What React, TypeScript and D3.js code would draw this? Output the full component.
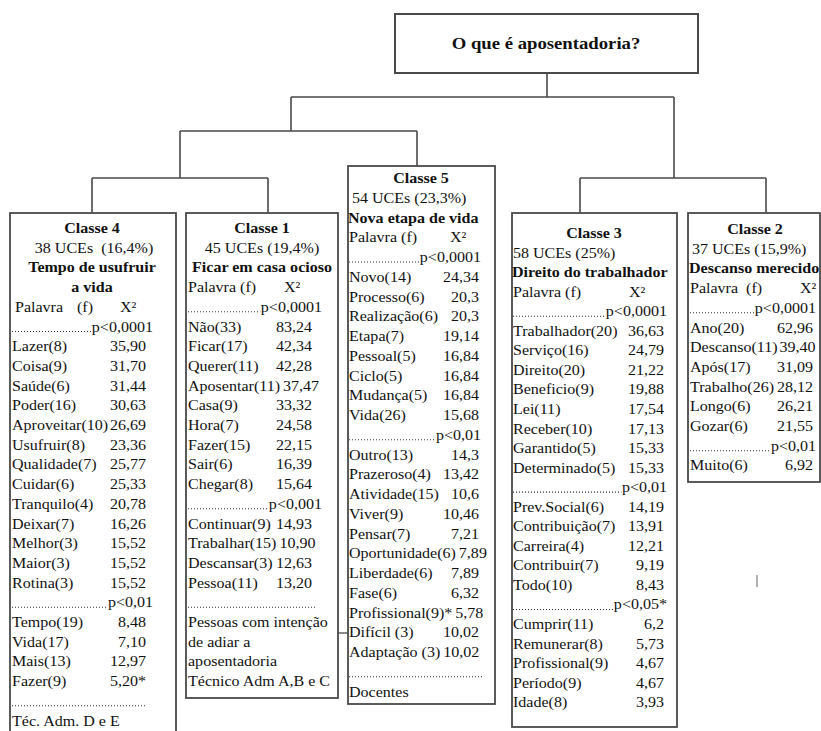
import * as React from 'react'
import { useEffect, useRef } from 'react'
import * as d3 from 'd3'

// root question
const rootQuestion = 'O que é aposentadoria?'

// classes, in the order they are drawn left to right
const classTitles = ['Classe 4', 'Classe 1', 'Classe 5', 'Classe 3', 'Classe 2']
const classUces = ['38 UCEs  (16,4%)', '45 UCEs (19,4%)', '54 UCEs (23,3%)', '58 UCEs (25%)', '37 UCEs (15,9%)']
const classThemes = [
  ['Tempo de usufruir', 'a vida'],
  ['Ficar em casa ocioso'],
  ['Nova etapa de vida'],
  ['Direito do trabalhador'],
  ['Descanso merecido'],
]
const classFooters = [
  ['Téc. Adm. D e E'],
  ['Pessoas com intenção', 'de adiar a', 'aposentadoria', 'Técnico Adm A,B e C'],
  ['Docentes'],
  [],
  [],
]

// Classe 4
const c4P = ['p<0,0001', 'p<0,01']
const c4Words = [
  ['Lazer(8)', 'Coisa(9)', 'Saúde(6)', 'Poder(16)', 'Aproveitar(10)', 'Usufruir(8)', 'Qualidade(7)', 'Cuidar(6)', 'Tranquilo(4)', 'Deixar(7)', 'Melhor(3)', 'Maior(3)', 'Rotina(3)'],
  ['Tempo(19)', 'Vida(17)', 'Mais(13)', 'Fazer(9)'],
]
const c4Chi = [
  ['35,90', '31,70', '31,44', '30,63', '26,69', '23,36', '25,77', '25,33', '20,78', '16,26', '15,52', '15,52', '15,52'],
  ['8,48', '7,10', '12,97', '5,20*'],
]

// Classe 1
const c1P = ['p<0,0001', 'p<0,001']
const c1Words = [
  ['Não(33)', 'Ficar(17)', 'Querer(11)', 'Aposentar(11)', 'Casa(9)', 'Hora(7)', 'Fazer(15)', 'Sair(6)', 'Chegar(8)'],
  ['Continuar(9)', 'Trabalhar(15)', 'Descansar(3)', 'Pessoa(11)'],
]
const c1Chi = [
  ['83,24', '42,34', '42,28', '37,47', '33,32', '24,58', '22,15', '16,39', '15,64'],
  ['14,93', '10,90', '12,63', '13,20'],
]

// Classe 5
const c5P = ['p<0,0001', 'p<0,01']
const c5Words = [
  ['Novo(14)', 'Processo(6)', 'Realização(6)', 'Etapa(7)', 'Pessoal(5)', 'Ciclo(5)', 'Mudança(5)', 'Vida(26)'],
  ['Outro(13)', 'Prazeroso(4)', 'Atividade(15)', 'Viver(9)', 'Pensar(7)', 'Oportunidade(6)', 'Liberdade(6)', 'Fase(6)', 'Profissional(9)*', 'Difícil (3)', 'Adaptação (3)'],
]
const c5Chi = [
  ['24,34', '20,3', '20,3', '19,14', '16,84', '16,84', '16,84', '15,68'],
  ['14,3', '13,42', '10,6', '10,46', '7,21', '7,89', '7,89', '6,32', '5,78', '10,02', '10,02'],
]

// Classe 3
const c3P = ['p<0,0001', 'p<0,01', 'p<0,05*']
const c3Words = [
  ['Trabalhador(20)', 'Serviço(16)', 'Direito(20)', 'Beneficio(9)', 'Lei(11)', 'Receber(10)', 'Garantido(5)', 'Determinado(5)'],
  ['Prev.Social(6)', 'Contribuição(7)', 'Carreira(4)', 'Contribuir(7)', 'Todo(10)'],
  ['Cumprir(11)', 'Remunerar(8)', 'Profissional(9)', 'Período(9)', 'Idade(8)'],
]
const c3Chi = [
  ['36,63', '24,79', '21,22', '19,88', '17,54', '17,13', '15,33', '15,33'],
  ['14,19', '13,91', '12,21', '9,19', '8,43'],
  ['6,2', '5,73', '4,67', '4,67', '3,93'],
]

// Classe 2
const c2P = ['p<0,0001', 'p<0,01']
const c2Words = [
  ['Ano(20)', 'Descanso(11)', 'Após(17)', 'Trabalho(26)', 'Longo(6)', 'Gozar(6)'],
  ['Muito(6)'],
]
const c2Chi = [
  ['62,96', '39,40', '31,09', '28,12', '26,21', '21,55'],
  ['6,92'],
]

const classP = [c4P, c1P, c5P, c3P, c2P]
const classWords = [c4Words, c1Words, c5Words, c3Words, c2Words]
const classChi = [c4Chi, c1Chi, c5Chi, c3Chi, c2Chi]

const FONT = '"Liberation Serif", "Times New Roman", serif'
const SX = 1.07

const App = () => {
  const ref = useRef<HTMLDivElement | null>(null)

  useEffect(() => {
    const svg = d3.select(ref.current)
      .append('svg')
      .attr('width', 821)
      .attr('height', 731)
      .style('position', 'absolute')
      .style('left', 0)
      .style('top', 0)
      .style('background', '#fff')
      .attr('font-family', FONT)

    const text = (g: any, s: string, x: number, y: number, anchor = 'start', bold = false, size = 15) =>
      g.append('text')
        .attr('transform', `translate(${x},${y}) scale(${SX},1)`)
        .attr('text-anchor', anchor)
        .attr('font-weight', bold ? 'bold' : 'normal')
        .attr('font-size', size)
        .attr('fill', '#111')
        .style('white-space', 'pre')
        .text(s)

    const width = (t: any) => (t.node() as SVGTextElement).getComputedTextLength() * SX

    // box layout
    const boxes = [
      { x0: 10, x1: 176, top: 213, bottom: 760, first: 228, step: 19.7, cx: 92, head: 'center', ucesX: 94, left: 12, fX: 77, chiX: 120, valR: 146, pR: 153, dotsR: 146, gap: 0 },
      { x0: 186, x1: 338, top: 213, bottom: 698, first: 228, step: 19.7, cx: 262, head: 'center', ucesX: 262, left: 188, fX: 0, chiX: 284, valR: 312, pR: 322, dotsR: 317, gap: 3 },
      { x0: 348, x1: 495, top: 166, bottom: 704, first: 178, step: 19.75, cx: 421, head: 'left', ucesX: 352, left: 349, fX: 0, chiX: 450, valR: 479, pR: 481, dotsR: 484, gap: 3 },
      { x0: 512, x1: 677, top: 213, bottom: 727, first: 233, step: 19.55, cx: 594, head: 'left', ucesX: 513, left: 513, fX: 0, chiX: 629, valR: 664, pR: 667, dotsR: 664, gap: 3 },
      { x0: 688, x1: 820, top: 213, bottom: 482, first: 229, step: 19.7, cx: 755, head: 'left', ucesX: 692, left: 690, fX: 0, chiX: 800, valR: 813, pR: 816, dotsR: 813, gap: 2 },
    ]

    const lineColor = '#4a4a4a'
    const lines = svg.append('g').attr('stroke', lineColor).attr('stroke-width', 1.6).attr('fill', 'none')

    // tree connectors
    const joints = [
      { x: 547, y0: 73, y1: 97, h: [291, 674] },
      { x: 291, y0: 97, y1: 131, h: [180, 417] },
      { x: 674, y0: 97, y1: 178, h: [580, 766] },
      { x: 180, y0: 131, y1: 178, h: [92, 268] },
    ]
    joints.forEach(j => {
      lines.append('path').attr('d', `M${j.x},${j.y0}V${j.y1}M${j.h[0]},${j.y1}H${j.h[1]}`)
    })
    const drops = [
      { x: 92, y0: 178, y1: 213 },
      { x: 268, y0: 178, y1: 213 },
      { x: 417, y0: 131, y1: 166 },
      { x: 580, y0: 178, y1: 213 },
      { x: 766, y0: 178, y1: 213 },
    ]
    drops.forEach(d => lines.append('path').attr('d', `M${d.x},${d.y0}V${d.y1}`))

    // stray strokes from the source picture
    lines.append('path').attr('d', 'M338,633H348').attr('stroke-width', 1.3)
    lines.append('path').attr('d', 'M757,575V587').attr('stroke', '#8a8a8a').attr('stroke-width', 1.3)

    // root box
    lines.append('rect').attr('x', 395).attr('y', 14).attr('width', 303).attr('height', 59).attr('stroke-width', 2)
    text(svg, rootQuestion, 546, 49, 'middle', true, 17.5)

    const dotted = (g: any, x0: number, x1: number, y: number) =>
      g.append('line')
        .attr('x1', x0).attr('x2', x1).attr('y1', y).attr('y2', y)
        .attr('stroke', '#333').attr('stroke-width', 1.1)
        .attr('stroke-dasharray', '1,2')

    boxes.forEach((b, i) => {
      const g = svg.append('g')
      g.append('rect')
        .attr('x', b.x0).attr('y', b.top)
        .attr('width', b.x1 - b.x0).attr('height', b.bottom - b.top)
        .attr('fill', '#fff').attr('stroke', lineColor).attr('stroke-width', 1.8)

      let r = 0
      const base = () => b.first + r * b.step + 5

      text(g, classTitles[i], b.cx, base(), 'middle', true)
      r++
      if (b.head === 'center') text(g, classUces[i], b.ucesX, base(), 'middle')
      else text(g, classUces[i], b.ucesX, base())
      r++
      classThemes[i].forEach(t => {
        if (b.head === 'center') text(g, t, b.cx, base(), 'middle', true)
        else text(g, t, b.left - 1, base(), 'start', true)
        r++
      })
      // header row
      if (b.fX) {
        text(g, 'Palavra', b.left + 3, base())
        text(g, '(f)', b.fX, base())
      } else {
        text(g, i === 4 ? 'Palavra  (f)' : 'Palavra (f)', b.left, base())
      }
      text(g, 'X²', b.chiX, base())
      r++

      classP[i].forEach((p, k) => {
        const pt = text(g, p, b.pR, base(), 'end')
        dotted(g, b.left, b.pR - width(pt) - 0.5, base())
        r++
        classWords[i][k].forEach((word, n) => {
          const wt = text(g, word, b.left, base())
          const vt = text(g, classChi[i][k][n], 0, base())
          const vw = width(vt)
          // values sit on a right-aligned column, pushed right after long words
          const vx = Math.max(b.valR - vw, b.left + width(wt) + b.gap)
          vt.attr('transform', `translate(${vx},${base()}) scale(${SX},1)`)
          r++
        })
      })

      if (classFooters[i].length) {
        dotted(g, b.left, b.dotsR, base())
        r++
        classFooters[i].forEach(f => {
          text(g, f, b.left, base())
          r++
        })
      }
    })

    return () => {
      svg.remove()
    }
  }, [])

  return <div ref={ref} />
}

export default App
